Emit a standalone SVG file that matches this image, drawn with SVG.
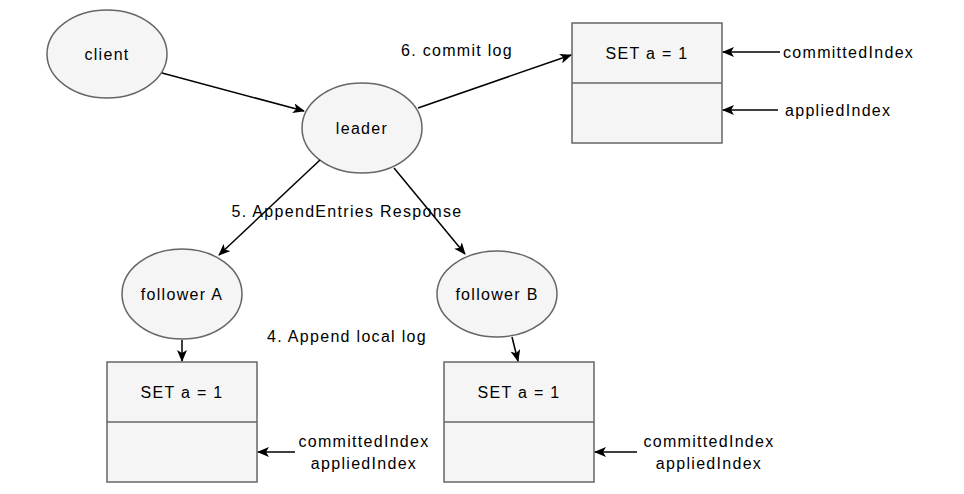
<svg xmlns="http://www.w3.org/2000/svg" width="964" height="494" viewBox="0 0 964 494">
<defs>
<marker id="arr" viewBox="0 0 12 10" refX="11" refY="5" markerWidth="12" markerHeight="10" markerUnits="userSpaceOnUse" orient="auto">
<path d="M0,0 L12,5 L0,10 L3,5 Z" fill="#000"/>
</marker>
</defs>
<style>
.node{fill:#f5f5f5;stroke:#666;stroke-width:1.5}
.t{font-family:"Liberation Sans",Arial,sans-serif;font-size:16px;fill:#000;letter-spacing:1.3px}
.c{text-anchor:middle;dominant-baseline:central}
.e{fill:none;stroke:#000;stroke-width:1.5;marker-end:url(#arr)}
</style>
<rect width="964" height="494" fill="#fff"/>
<g id="client"><ellipse class="node" cx="107" cy="54" rx="60" ry="44"/><text class="t c" x="107" y="54">client</text></g>
<g id="leader"><ellipse class="node" cx="362" cy="128" rx="60" ry="45"/><text class="t c" x="362" y="128">leader</text></g>
<g id="followerA"><ellipse class="node" cx="182" cy="294" rx="60" ry="45"/><text class="t c" x="182" y="294">follower A</text></g>
<g id="followerB"><ellipse class="node" cx="497" cy="294" rx="60" ry="43"/><text class="t c" x="497" y="294">follower B</text></g>
<g id="logLeader"><rect class="node" x="572" y="23" width="150" height="120"/><line x1="572" y1="83" x2="722" y2="83" stroke="#666" stroke-width="1.5"/><text class="t c" x="647" y="53">SET a = 1</text></g>
<g id="logA"><rect class="node" x="107" y="362" width="150" height="120"/><line x1="107" y1="422" x2="257" y2="422" stroke="#666" stroke-width="1.5"/><text class="t c" x="182" y="392">SET a = 1</text></g>
<g id="logB"><rect class="node" x="444" y="362" width="150" height="120"/><line x1="444" y1="422" x2="594" y2="422" stroke="#666" stroke-width="1.5"/><text class="t c" x="519" y="392">SET a = 1</text></g>
<g id="labels">
<text class="t" x="783" y="58">committedIndex</text>
<text class="t" x="785" y="116">appliedIndex</text>
<text class="t c" x="364" y="441">committedIndex</text>
<text class="t c" x="364" y="463">appliedIndex</text>
<text class="t c" x="709" y="441">committedIndex</text>
<text class="t c" x="709" y="463">appliedIndex</text>
<text class="t c" x="457" y="50">6. commit log</text>
<text class="t c" x="347" y="211">5. AppendEntries Response</text>
<text class="t c" x="347" y="336">4. Append local log</text>
</g>
<g id="connectors">
<line class="e" x1="162" y1="73" x2="304" y2="111"/>
<line class="e" x1="418" y1="108" x2="571" y2="55"/>
<line class="e" x1="320" y1="160" x2="219" y2="255"/>
<line class="e" x1="394" y1="168" x2="465" y2="254"/>
<line class="e" x1="182" y1="340" x2="182" y2="361"/>
<line class="e" x1="512" y1="337" x2="518" y2="361"/>
<line class="e" x1="780" y1="52" x2="723" y2="52"/>
<line class="e" x1="778" y1="110" x2="723" y2="110"/>
<line class="e" x1="295" y1="452" x2="258" y2="452"/>
<line class="e" x1="637" y1="452" x2="595" y2="452"/>
</g>
</svg>
